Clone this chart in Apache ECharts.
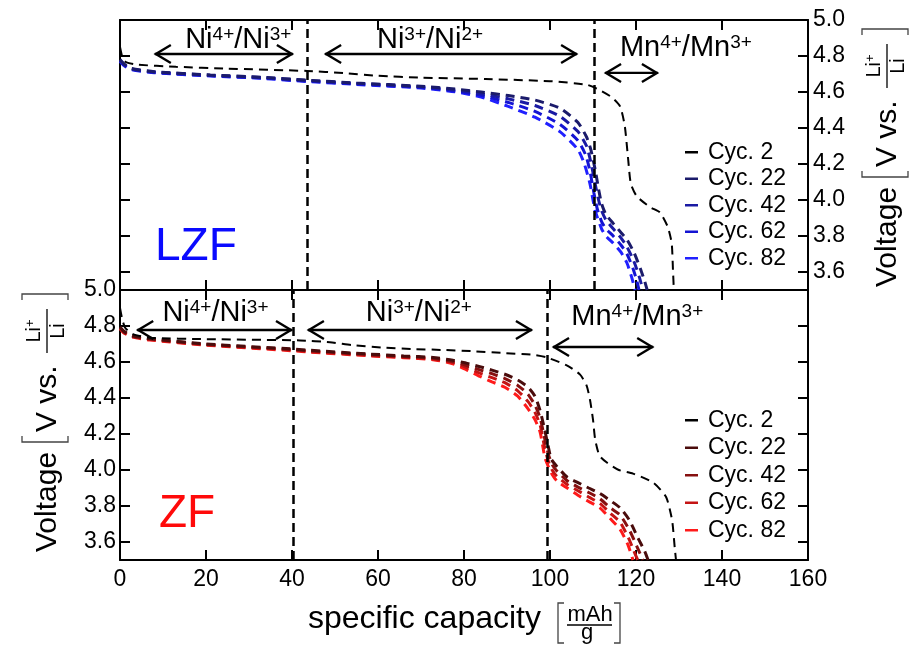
<!DOCTYPE html>
<html><head><meta charset="utf-8">
<script src="https://cdn.jsdelivr.net/npm/echarts@6/dist/echarts.min.js"></script>
<style>html,body{margin:0;padding:0;background:#fff}#c{width:915px;height:647px}</style>
</head><body><div id="c"></div>
<script>
const FONT = '"Liberation Sans", Arial, Helvetica, sans-serif';

// ---- data ----
const yTickValues = [3.6, 3.8, 4.0, 4.2, 4.4, 4.6, 4.8, 5.0];
const cycleNames = ['Cyc. 2', 'Cyc. 22', 'Cyc. 42', 'Cyc. 62', 'Cyc. 82'];
const lzfColors = ['#000000', '#1b1b6b', '#1a1aa3', '#1414d2', '#2020ff'];
const zfColors = ['#000000', '#4a0c0c', '#861010', '#c41414', '#ff1a1a'];

// LZF (top panel): [capacity mAh/g, voltage V]
const lzfCyc2 = [[0,4.85],[0.6,4.79],[1.5,4.765],[4,4.752],[13,4.74],[25,4.73],[43.5,4.717],[52,4.705],[60,4.69],[70,4.68],[85,4.672],[100,4.66],[108.6,4.64],[111.6,4.61],[114.4,4.57],[116.3,4.52],[117.4,4.41],[118.2,4.22],[118.8,4.09],[120.2,4.02],[123.3,3.96],[125.6,3.93],[127.4,3.85],[128.3,3.76],[128.6,3.61],[128.8,3.5]];
const lzfCyc22 = [[0,4.78],[1,4.755],[2.5,4.732],[8,4.713],[21,4.695],[33,4.682],[43.5,4.666],[55,4.65],[70,4.632],[78,4.616],[84,4.60],[90.3,4.58],[96.5,4.555],[102.3,4.51],[106.5,4.43],[108.5,4.35],[109.5,4.28],[110.5,4.17],[111.3,4.06],[112,3.98],[113,3.92],[114.7,3.87],[116.5,3.82],[117.9,3.78],[119.5,3.71],[121,3.62],[122,3.55],[122.6,3.5]];
const lzfCyc42 = [[0,4.776],[1,4.752],[2.5,4.729],[8,4.711],[21,4.693],[33,4.68],[43.5,4.664],[55,4.648],[70,4.629],[78,4.611],[84,4.59],[90.3,4.562],[96.5,4.525],[102.3,4.465],[106.5,4.38],[108.5,4.30],[109.5,4.21],[110.5,4.09],[111.3,4.0],[112,3.94],[113,3.89],[114.7,3.84],[116.5,3.79],[117.9,3.74],[119.5,3.66],[120.8,3.57],[121.6,3.5]];
const lzfCyc62 = [[0,4.773],[1,4.749],[2.5,4.727],[8,4.709],[21,4.691],[33,4.678],[43.5,4.661],[55,4.645],[70,4.626],[78,4.606],[84,4.582],[90.3,4.542],[96.5,4.492],[102.3,4.42],[106.5,4.33],[108.3,4.25],[109.3,4.16],[110.2,4.04],[111,3.95],[112,3.88],[113,3.84],[114.7,3.80],[116.5,3.75],[117.9,3.70],[119.3,3.62],[120.2,3.55],[120.7,3.5]];
const lzfCyc82 = [[0,4.77],[1,4.746],[2.5,4.725],[8,4.707],[21,4.689],[33,4.676],[43.5,4.658],[55,4.642],[70,4.622],[78,4.601],[84,4.572],[90.3,4.52],[96.5,4.46],[102.3,4.38],[106.5,4.28],[108,4.20],[109.3,4.09],[110,4.0],[110.5,3.94],[112,3.84],[113,3.80],[114.7,3.76],[116.5,3.71],[117.9,3.65],[119,3.57],[119.8,3.5]];

// ZF (bottom panel)
const zfCyc2 = [[0,4.90],[0.5,4.84],[1.2,4.79],[3,4.755],[7,4.735],[20,4.727],[41.9,4.72],[48.8,4.71],[54,4.694],[61,4.68],[68,4.672],[75,4.667],[82,4.66],[89,4.65],[96,4.64],[99.3,4.625],[104,4.58],[107,4.53],[108.5,4.47],[109.3,4.39],[110,4.28],[110.5,4.17],[111.5,4.08],[113.3,4.04],[116,4.0],[119.3,3.98],[124,3.93],[127,3.85],[128.4,3.72],[129,3.57],[129.3,3.5]];
const zfCyc22 = [[0,4.795],[1,4.77],[3,4.745],[7,4.73],[20,4.70],[40.3,4.672],[44.2,4.665],[57.4,4.645],[66,4.634],[72.8,4.625],[77.4,4.61],[80.5,4.594],[83.7,4.574],[86.5,4.555],[89.5,4.532],[92.5,4.5],[94.9,4.46],[96.5,4.41],[97.7,4.33],[98.8,4.22],[99.6,4.13],[100.3,4.06],[101.6,4.02],[104,3.96],[106.5,3.93],[109,3.90],[111.6,3.87],[114,3.83],[116.3,3.79],[118.5,3.72],[120.5,3.62],[122,3.55],[122.8,3.5]];
const zfCyc42 = [[0,4.792],[1,4.767],[3,4.743],[7,4.728],[20,4.698],[40.3,4.669],[44.2,4.662],[57.4,4.642],[66,4.63],[72.8,4.621],[77.4,4.603],[80.5,4.582],[83.7,4.556],[86.5,4.535],[89.5,4.508],[92.5,4.47],[94.9,4.42],[96.5,4.36],[97.7,4.29],[98.8,4.17],[99.6,4.09],[100.5,4.03],[101.6,3.995],[104,3.94],[106.5,3.905],[109,3.875],[111.6,3.84],[114,3.79],[116.3,3.75],[118.5,3.665],[120.3,3.57],[121.6,3.5]];
const zfCyc62 = [[0,4.788],[1,4.763],[3,4.74],[7,4.725],[20,4.696],[40.3,4.666],[44.2,4.658],[57.4,4.638],[66,4.627],[72.8,4.617],[77.4,4.597],[80.5,4.57],[83.7,4.538],[86.5,4.513],[89.5,4.485],[92.5,4.44],[94.9,4.38],[96.5,4.32],[97.7,4.25],[98.8,4.12],[99.6,4.05],[100.5,4.0],[101.6,3.965],[104,3.92],[106.5,3.885],[109,3.85],[111.6,3.815],[114,3.76],[116.3,3.71],[118.3,3.62],[119.5,3.55],[120.4,3.5]];
const zfCyc82 = [[0,4.785],[1,4.76],[3,4.738],[7,4.722],[20,4.694],[40.3,4.662],[44.2,4.655],[57.4,4.635],[66,4.624],[72.8,4.613],[77.4,4.59],[80.5,4.558],[83.7,4.52],[86.5,4.49],[89.5,4.46],[92.5,4.41],[94.9,4.34],[96.5,4.28],[97.7,4.21],[98.8,4.07],[99.6,4.02],[100.5,3.975],[101.6,3.94],[104,3.90],[106.5,3.86],[109,3.825],[111.6,3.79],[114,3.73],[116.3,3.67],[118.2,3.58],[119.3,3.5]];

const lzfDividers = [43.5, 110.3];
const zfDividers = [40.3, 99.3];
// double arrows: [x start, x end, voltage]
const lzfArrows = [[8.1, 40.2, 4.811], [47.7, 106.3, 4.811], [112.8, 125.1, 4.706]];
const zfArrows = [[4.0, 40.0, 4.778], [43.7, 95.8, 4.778], [100.7, 124.0, 4.683]];
// redox labels: [x centre, voltage]
const lzfLabelPos = [[27.5, 4.889], [72.1, 4.889], [131.6, 4.844]];
const zfLabelPos = [[22.2, 4.872], [69.5, 4.872], [120.3, 4.85]];
const labelTexts = [['Ni', '4+', '/Ni', '3+'], ['Ni', '3+', '/Ni', '2+'], ['Mn', '4+', '/Mn', '3+']];

const lzfData = [lzfCyc2, lzfCyc22, lzfCyc42, lzfCyc62, lzfCyc82];
const zfData = [zfCyc2, zfCyc22, zfCyc42, zfCyc62, zfCyc82];

// ---- chart ----
const chart = echarts.init(document.getElementById('c'), null, {renderer: 'canvas'});

const axLine = {show: true, onZero: false, lineStyle: {color: '#000', width: 2}};
function xAx(grid, pos, showLabel) {
  return {type: 'value', gridIndex: grid, position: pos, min: 0, max: 160, interval: 20,
    axisLine: axLine,
    axisTick: {show: true, inside: true, length: 10, lineStyle: {color: '#000', width: 2}},
    axisLabel: {show: showLabel, margin: 8, fontSize: 23, fontFamily: FONT, color: '#000'},
    splitLine: {show: false}};
}
function yAx(grid, pos, showLabel, margin) {
  return {type: 'value', gridIndex: grid, position: pos, min: 3.5, max: 5.0,
    axisLine: axLine,
    axisTick: {show: true, inside: true, length: 10, customValues: yTickValues, lineStyle: {color: '#000', width: 2}},
    axisLabel: {show: showLabel, customValues: yTickValues, margin: margin, fontSize: 23, fontFamily: FONT, color: '#000',
      formatter: v => Number(v).toFixed(1)},
    splitLine: {show: false}};
}

function lineSeries(prefix, data, colors, xi, yi, dividers) {
  const out = [];
  for (let i = data.length - 1; i >= 0; i--) {
    const s = {
      type: 'line', name: prefix + cycleNames[i], data: data[i], xAxisIndex: xi, yAxisIndex: yi,
      showSymbol: false, symbol: 'none', smooth: 0.2, clip: true,
      color: colors[i],
      itemStyle: {color: colors[i]},
      lineStyle: {color: colors[i], width: i === 0 ? 2 : 3, type: [9, 6]},
      z: i === 0 ? 4 : 3
    };
    out.push(s);
  }
  out[0].markLine = {symbol: 'none', silent: true, label: {show: false}, animation: false,
    lineStyle: {color: '#000', width: 2.5, type: [9, 5]},
    data: dividers.map(v => ({xAxis: v}))};
  return out;
}

function arrowSeries(arrows, xi, yi) {
  return {type: 'custom', xAxisIndex: xi, yAxisIndex: yi, data: arrows, silent: true, z: 5,
    encode: {x: [0, 1], y: 2},
    renderItem: function (params, api) {
      const p1 = api.coord([api.value(0), api.value(2)]);
      const p2 = api.coord([api.value(1), api.value(2)]);
      const L = 16, H = 9;
      const st = {stroke: '#000', lineWidth: 2.4, fill: null, lineJoin: 'miter'};
      return {type: 'group', children: [
        {type: 'line', shape: {x1: p1[0], y1: p1[1], x2: p2[0], y2: p2[1]}, style: st},
        {type: 'polyline', shape: {points: [[p1[0] + L, p1[1] - H], [p1[0] + 1, p1[1]], [p1[0] + L, p1[1] + H]]}, style: st},
        {type: 'polyline', shape: {points: [[p2[0] - L, p2[1] - H], [p2[0] - 1, p2[1]], [p2[0] - L, p2[1] + H]]}, style: st}
      ]};
    }};
}

function labelSeries(pos, xi, yi) {
  return {type: 'custom', xAxisIndex: xi, yAxisIndex: yi, data: pos, silent: true, z: 5,
    renderItem: function (params, api) {
      const p = api.coord([api.value(0), api.value(1)]);
      const t = labelTexts[params.dataIndex];
      return {type: 'text', x: p[0], y: p[1], style: {
        text: '{b|' + t[0] + '}{s|' + t[1] + '}{b|' + t[2] + '}{s|' + t[3] + '}',
        align: 'center', verticalAlign: 'middle',
        rich: {
          b: {fontSize: 29, fontFamily: FONT, fill: '#000', lineHeight: 30},
          s: {fontSize: 19, fontFamily: FONT, fill: '#000', lineHeight: 22, verticalAlign: 'top'}
        }}};
    }};
}

function legendCfg(names, prefix, top, gap) {
  return {data: names.map(n => prefix + n), left: 685, top: top, orient: 'vertical', padding: 0,
    icon: 'rect', itemWidth: 13, itemHeight: 2.5, itemGap: gap, selectedMode: false,
    formatter: n => n.slice(prefix.length),
    textStyle: {fontFamily: FONT, fontSize: 23, color: '#000', lineHeight: 24.5, padding: [0, 0, 0, 5]}};
}

function voltTitle(cx, by) {
  const br = {stroke: '#444', lineWidth: 1.3, fill: null};
  return {type: 'group', x: cx, y: by, rotation: Math.PI / 2, silent: true, children: [
    {type: 'text', x: 0, y: 3, style: {text: 'Voltage', fontSize: 30, fontFamily: FONT, fill: '#000', align: 'left', verticalAlign: 'middle'}},
    {type: 'polyline', shape: {points: [[116, -23], [110, -23], [110, 23], [116, 23]]}, style: br},
    {type: 'text', x: 120, y: 3, style: {text: 'V vs.', fontSize: 30, fontFamily: FONT, fill: '#000', align: 'left', verticalAlign: 'middle'}},
    {type: 'text', x: 221, y: -11, style: {text: '{a|Li}{s|+}', align: 'center', verticalAlign: 'middle',
      rich: {a: {fontSize: 20, fontFamily: FONT, fill: '#000', lineHeight: 21}, s: {fontSize: 13, fontFamily: FONT, fill: '#000', lineHeight: 14, verticalAlign: 'top'}}}},
    {type: 'line', shape: {x1: 199, y1: 2, x2: 243, y2: 2}, style: {stroke: '#000', lineWidth: 1.3}},
    {type: 'text', x: 221, y: 13, style: {text: 'Li', fontSize: 20, fontFamily: FONT, fill: '#000', align: 'center', verticalAlign: 'middle'}},
    {type: 'polyline', shape: {points: [[252, -23], [258, -23], [258, 23], [252, 23]]}, style: br}
  ]};
}

const option = {
  animation: false,
  backgroundColor: '#fff',
  grid: [
    {left: 120, right: 107, top: 20, height: 270, containLabel: false},
    {left: 120, right: 107, top: 290, height: 270, containLabel: false}
  ],
  xAxis: [xAx(0, 'bottom', false), xAx(0, 'top', false), xAx(1, 'bottom', true), xAx(1, 'top', false)],
  yAxis: [yAx(0, 'right', true, 5), yAx(0, 'left', false, 4), yAx(1, 'left', true, 4), yAx(1, 'right', false, 4)],
  legend: [legendCfg(cycleNames, 'LZF ', 140, 2), legendCfg(cycleNames, 'ZF ', 408, 3)],
  series: [].concat(
    lineSeries('LZF ', lzfData, lzfColors, 0, 0, lzfDividers),
    lineSeries('ZF ', zfData, zfColors, 2, 2, zfDividers),
    [arrowSeries(lzfArrows, 0, 0), arrowSeries(zfArrows, 2, 2), labelSeries(lzfLabelPos, 0, 0), labelSeries(zfLabelPos, 2, 2)]
  ),
  graphic: [
    {type: 'text', x: 155, y: 247, silent: true, style: {text: 'LZF', fontSize: 46, fontFamily: FONT, fill: '#0a0aff', align: 'left', verticalAlign: 'middle'}},
    {type: 'text', x: 159, y: 514, silent: true, style: {text: 'ZF', fontSize: 46, fontFamily: FONT, fill: '#ff0a0a', align: 'left', verticalAlign: 'middle'}},
    voltTitle(885, 287),
    voltTitle(45, 552),
    {type: 'text', x: 308, y: 619, silent: true, style: {text: 'specific capacity', fontSize: 32, fontFamily: FONT, fill: '#000', align: 'left', verticalAlign: 'middle'}},
    {type: 'polyline', silent: true, shape: {points: [[564, 603], [558, 603], [558, 643], [564, 643]]}, style: {stroke: '#444', lineWidth: 1.3, fill: null}},
    {type: 'text', x: 590, y: 615, silent: true, style: {text: 'mAh', fontSize: 22, fontFamily: FONT, fill: '#000', align: 'center', verticalAlign: 'middle'}},
    {type: 'line', silent: true, shape: {x1: 567, y1: 625, x2: 612, y2: 625}, style: {stroke: '#000', lineWidth: 1.3}},
    {type: 'text', x: 587, y: 633, silent: true, style: {text: 'g', fontSize: 22, fontFamily: FONT, fill: '#000', align: 'center', verticalAlign: 'middle'}},
    {type: 'polyline', silent: true, shape: {points: [[614, 603], [620, 603], [620, 643], [614, 643]]}, style: {stroke: '#444', lineWidth: 1.3, fill: null}}
  ]
};
chart.setOption(option);
</script>
</body></html>
